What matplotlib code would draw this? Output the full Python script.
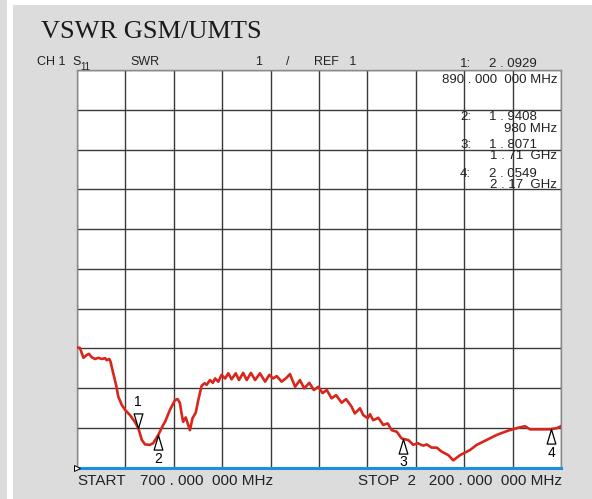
import matplotlib.pyplot as plt
import numpy as np
from matplotlib.path import Path
from matplotlib.patches import Rectangle

# trace (MHz, SWR)
freq_mhz = [700, 709, 720, 730, 737, 746, 756, 766, 777, 787, 792, 800, 804, 812, 821, 828,
            839, 849, 864, 880, 890, 901, 911, 926, 936, 952, 967, 973, 988, 1004, 1012, 1019,
            1024, 1029, 1037, 1043, 1050, 1058, 1068, 1076, 1086, 1095, 1102, 1112, 1121, 1128,
            1138, 1148, 1159, 1169, 1179, 1192, 1202, 1215, 1226, 1239, 1252, 1267, 1283, 1296,
            1308, 1319, 1334, 1347, 1360, 1376, 1391, 1404, 1420, 1434, 1448, 1461, 1474, 1489,
            1503, 1520, 1534, 1551, 1561, 1577, 1587, 1601, 1608, 1618, 1634, 1649, 1663, 1675,
            1691, 1706, 1727, 1742, 1756, 1773, 1784, 1799, 1815, 1830, 1851, 1866, 1887, 1918,
            1939, 1959, 2001, 2037, 2063, 2088, 2104, 2135, 2166, 2187, 2200]
swr = [4.02, 4.01, 3.76, 3.83, 3.86, 3.77, 3.73, 3.76, 3.73, 3.75, 3.70, 3.73, 3.66, 3.38, 3.08, 2.78,
       2.57, 2.45, 2.32, 2.14, 1.99, 1.69, 1.58, 1.57, 1.61, 1.82, 2.07, 2.15, 2.45, 2.70, 2.72, 2.62,
       2.36, 2.15, 2.26, 2.11, 1.94, 2.24, 2.38, 2.70, 3.05, 3.12, 3.08, 3.20, 3.13, 3.24,
       3.16, 3.33, 3.24, 3.37, 3.22, 3.37, 3.20, 3.38, 3.20, 3.38, 3.20, 3.37, 3.16, 3.33,
       3.24, 3.30, 3.16, 3.24, 3.35, 3.03, 3.20, 2.99, 3.13, 2.95, 3.03, 2.87, 2.95, 2.74,
       2.82, 2.63, 2.72, 2.53, 2.36, 2.49, 2.32, 2.24, 2.34, 2.19, 2.25, 2.07, 2.11, 1.94,
       1.90, 1.73, 1.69, 1.57, 1.61, 1.55, 1.58, 1.50, 1.50, 1.40, 1.31, 1.18, 1.31, 1.44,
       1.57, 1.65, 1.82, 1.93, 1.99, 2.04, 1.96, 1.96, 1.96, 1.99, 2.04]

marker_freq = [890, 952, 1710, 2170]
marker_names = ["1", "2", "3", "4"]
marker_vals = ["2 . 0929", "1 . 9408", "1 . 8071", "2 . 0549"]
marker_freq_txt = ["890 . 000  000 MHz", "980 MHz", "1 . 71  GHz", "2 . 17  GHz"]

W, H = 592, 499
fig = plt.figure(figsize=(W / 100, H / 100), dpi=100)
fig.patch.set_facecolor("#dcdcdc")
fig.patches.append(Rectangle((7 / W, 0), 6 / W, 1, transform=fig.transFigure,
                             facecolor="white", edgecolor="none", zorder=0))
fig.patches.append(Rectangle((13 / W, 1 - 5 / H), 1, 5 / H, transform=fig.transFigure,
                             facecolor="white", edgecolor="none", zorder=0))

ax = fig.add_axes([77 / W, 31.5 / H, 484 / W, 397.5 / H])
ax.set_facecolor("white")
ax.set_xlim(700, 2200)
ax.set_ylim(1, 11)
ax.set_xticks(np.arange(700, 2201, 150))
ax.set_yticks(np.arange(1, 12, 1))
ax.grid(True, color="#3a3a3a", lw=1.0)
ax.tick_params(length=0, labelbottom=False, labelleft=False)
for s in ["left", "top", "right"]:
    ax.spines[s].set_color("#8a8a8a")
    ax.spines[s].set_linewidth(1.0)
ax.spines["bottom"].set_color("#1e8fdc")
ax.spines["bottom"].set_linewidth(2.2)

ax.plot(freq_mhz, swr, color="#d8261c", lw=1.9, zorder=3)

# marker triangles, tip sitting on the trace
up = Path([(0, 0), (-0.3, -1), (0.3, -1), (0, 0)],
          [Path.MOVETO, Path.LINETO, Path.LINETO, Path.CLOSEPOLY])
down = Path([(0, 0), (-0.3, 1), (0.3, 1), (0, 0)],
            [Path.MOVETO, Path.LINETO, Path.LINETO, Path.CLOSEPOLY])
for i, f in enumerate(marker_freq):
    v = np.interp(f, freq_mhz, swr)
    if i == 0:
        ax.plot(f, v, marker=down, ms=21, mfc="white", mec="black", mew=0.9, zorder=4)
        ax.annotate(marker_names[i], (f, v), xytext=(0, 14), textcoords="offset points",
                    ha="center", va="bottom", fontsize=10, family="Liberation Sans")
    else:
        ax.plot(f, v, marker=up, ms=21, mfc="white", mec="black", mew=0.9, zorder=4)
        ax.annotate(marker_names[i], (f, v), xytext=(0, -12), textcoords="offset points",
                    ha="center", va="top", fontsize=10, family="Liberation Sans")

# reference position indicator at the left edge
ax.plot(700, 1, marker=">", ms=4, mfc="white", mec="black", mew=0.7,
        clip_on=False, zorder=5)


def t(x, y, s, **kw):
    kw.setdefault("fontsize", 9.5)
    kw.setdefault("family", ["Liberation Sans", "DejaVu Sans"])
    kw.setdefault("color", "#222222")
    fig.text(x / W, 1 - y / H, s, va="baseline", **kw)


t(41, 38, "VSWR GSM/UMTS", fontsize=19, family=["Liberation Serif", "DejaVu Serif"], color="#1a1a1a")
t(37, 65, "CH 1", fontsize=9)
t(72, 65, "S", fontsize=9)
t(80, 70, "11", fontsize=7)
t(130, 65, "SWR", fontsize=9)
t(255, 65, "1", fontsize=9)
t(286, 65, "/", fontsize=9)
t(314, 65, "REF   1", fontsize=9)

val_y = [67, 120, 148, 177]
frq_y = [83, 132, 159, 188]
for i in range(4):
    t(460, val_y[i], marker_names[i] + ":")
    t(489, val_y[i], marker_vals[i])
    t(557, frq_y[i], marker_freq_txt[i], ha="right")

t(77, 485, "START", fontsize=11)
t(140, 485, "700 . 000  000 MHz", fontsize=11)
t(358, 485, "STOP  2   200 . 000  000 MHz", fontsize=11)

fig.savefig("out.png", dpi=100, facecolor=fig.get_facecolor())
